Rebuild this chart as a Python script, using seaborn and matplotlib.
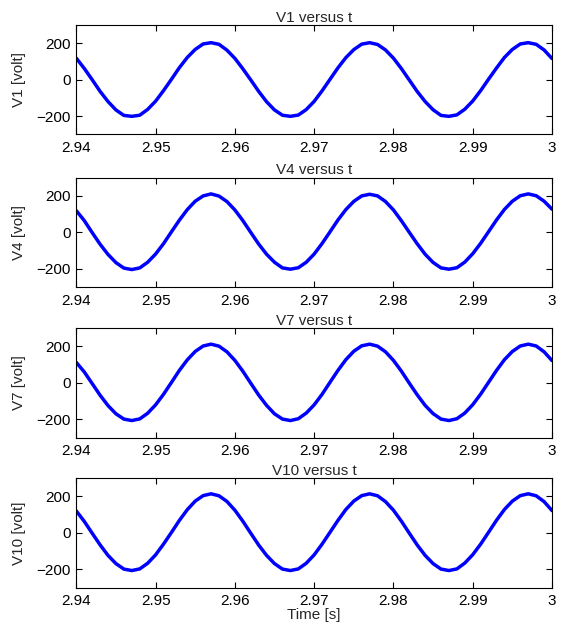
import matplotlib
matplotlib.use("Agg")
import matplotlib.pyplot as plt
import numpy as np
import seaborn as sns

# ============================================================
# DATA (one sample per millisecond)
# ============================================================

t = np.linspace(2.94, 3.0, 61)

V1 = [118, 62, 0, -64, -120, -166, -196, -201, -195, -163,
      -118, -60, 2, 66, 122, 166, 196, 203, 194, 162,
      117, 60, -1, -64, -121, -166, -195, -201, -194, -164,
      -119, -61, 2, 65, 121, 165, 195, 203, 193, 163,
      118, 61, -2, -65, -120, -165, -196, -201, -193, -162,
      -117, -60, 3, 64, 122, 166, 196, 203, 194, 163,
      116]

V4 = [118, 64, -2, -66, -122, -167, -197, -205, -196, -165,
      -120, -63, 2, 66, 124, 170, 199, 210, 198, 168,
      122, 64, -1, -65, -121, -165, -196, -203, -195, -165,
      -120, -62, 2, 67, 124, 169, 199, 208, 199, 168,
      122, 63, -1, -64, -121, -166, -196, -203, -195, -164,
      -118, -61, 3, 67, 125, 170, 200, 210, 200, 170,
      126]

V7 = [112, 60, -4, -68, -125, -170, -199, -207, -198, -167,
      -121, -63, 2, 68, 126, 172, 202, 212, 201, 170,
      123, 64, -2, -67, -124, -170, -199, -207, -197, -166,
      -121, -63, 3, 68, 127, 173, 203, 212, 201, 170,
      123, 64, -2, -66, -124, -169, -199, -207, -197, -166,
      -120, -62, 3, 68, 127, 172, 202, 212, 202, 170,
      122]

V10 = [120, 63, -2, -66, -124, -169, -199, -207, -198, -167,
       -121, -62, 2, 68, 127, 174, 204, 214, 203, 172,
       124, 64, -2, -67, -124, -169, -199, -207, -198, -167,
       -121, -62, 3, 68, 128, 174, 204, 214, 203, 171,
       124, 64, -2, -67, -124, -169, -199, -207, -198, -166,
       -120, -62, 3, 69, 128, 174, 204, 214, 203, 171,
       122]

names = ["V1", "V4", "V7", "V10"]
series = [V1, V4, V7, V10]
xticks = [2.94, 2.95, 2.96, 2.97, 2.98, 2.99, 3.0]
xticklabels = ["2.94", "2.95", "2.96", "2.97", "2.98", "2.99", "3"]
yticks = [-200, 0, 200]

# ============================================================
# STYLE
# ============================================================

sns.set_style("ticks", {
    "xtick.direction": "in",
    "ytick.direction": "in",
    "axes.edgecolor": "black",
})
plt.rcParams["font.family"] = ["Liberation Sans", "DejaVu Sans"]
plt.rcParams["font.size"] = 11

FONT = 11
LEFT, WIDTH, HEIGHT = 0.136, 0.848, 0.175
BOTTOMS = [0.785, 0.541, 0.300, 0.060]

# ============================================================
# PLOT
# ============================================================

fig = plt.figure(figsize=(5.61, 6.25), dpi=100)

for name, vals, bottom in zip(names, series, BOTTOMS):
    ax = fig.add_axes([LEFT, bottom, WIDTH, HEIGHT])
    sns.lineplot(x=t, y=vals, ax=ax, color="#0000ff", linewidth=2.5)
    ax.set_xlim(2.94, 3.0)
    ax.set_ylim(-300, 300)
    ax.set_xticks(xticks)
    ax.set_xticklabels(xticklabels)
    ax.set_yticks(yticks)
    ax.tick_params(axis="both", which="both", direction="in", length=4,
                   width=0.8, top=True, right=True, labelsize=FONT,
                   colors="black")
    ax.tick_params(axis="x", pad=5)
    ax.tick_params(axis="y", pad=4)
    for side in ["top", "right", "bottom", "left"]:
        ax.spines[side].set_visible(True)
        ax.spines[side].set_linewidth(0.8)
        ax.spines[side].set_color("black")
    ax.set_title(f"{name} versus t", fontsize=FONT, pad=2)
    ax.set_ylabel(f"{name} [volt]", fontsize=FONT, labelpad=7.5)
    ax.set_xlabel("")

ax.set_xlabel("Time [s]", fontsize=FONT, labelpad=0)

fig.savefig("out.png", dpi=100)
